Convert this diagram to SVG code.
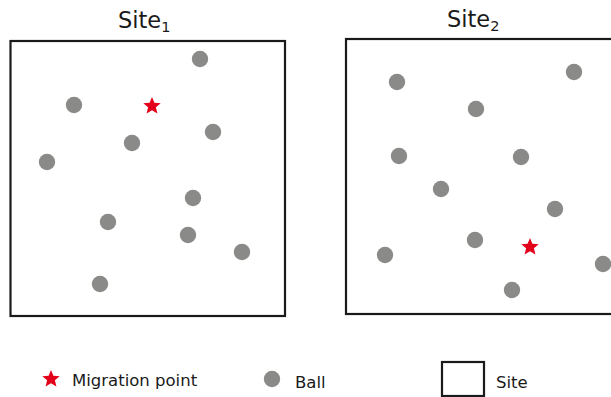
<svg xmlns="http://www.w3.org/2000/svg" width="611" height="397" viewBox="0 0 611 397">
<style>
.site{fill:#fff;stroke:#1a1a1a;stroke-width:2.2}
.ball{fill:#8a8a88}
.mig{fill:#e3001b}
.t{font-family:"DejaVu Sans",sans-serif;fill:#1a1a1a}
.title{font-size:22.5px}
.lbl{font-size:16.5px}
</style>
<defs>
<circle id="b" r="8.2" class="ball"/>
<polygon id="s" class="mig" points="0,-9 2.4,-3.2 8.7,-2.8 3.9,1.3 5.4,7.5 0,4.2 -5.4,7.5 -3.9,1.3 -8.7,-2.8 -2.4,-3.2"/>
</defs>
<g id="site1">
<rect class="site" x="10.5" y="41" width="274.5" height="275"/>
<text class="t title" x="118" y="28">Site<tspan font-size="14.5" dy="4">1</tspan></text>
<use href="#b" x="200" y="59"/><use href="#b" x="74" y="105"/><use href="#b" x="213" y="132"/>
<use href="#b" x="132" y="143"/><use href="#b" x="47" y="162"/><use href="#b" x="193" y="198"/>
<use href="#b" x="108" y="222"/><use href="#b" x="188" y="235"/><use href="#b" x="242" y="252"/>
<use href="#b" x="100" y="284"/>
<use href="#s" x="152" y="106"/>
</g>
<g id="site2">
<rect class="site" x="346" y="39" width="280" height="275"/>
<text class="t title" x="447" y="27">Site<tspan font-size="14.5" dy="4">2</tspan></text>
<use href="#b" x="397" y="82"/><use href="#b" x="574" y="72"/><use href="#b" x="476" y="109"/>
<use href="#b" x="399" y="156"/><use href="#b" x="521" y="157"/><use href="#b" x="441" y="189"/>
<use href="#b" x="555" y="209"/><use href="#b" x="475" y="240"/><use href="#b" x="385" y="255"/>
<use href="#b" x="512" y="290"/><use href="#b" x="603" y="264"/>
<use href="#s" x="530" y="247"/>
</g>
<g id="connectors"/>
<g id="legend">
<use href="#s" x="51" y="379"/>
<text class="t lbl" x="72" y="386">Migration point</text>
<use href="#b" x="272" y="379"/>
<text class="t lbl" x="295" y="388">Ball</text>
<rect class="site" x="442" y="362" width="42" height="34" stroke-width="1.8"/>
<text class="t lbl" x="496" y="388">Site</text>
</g>
</svg>
